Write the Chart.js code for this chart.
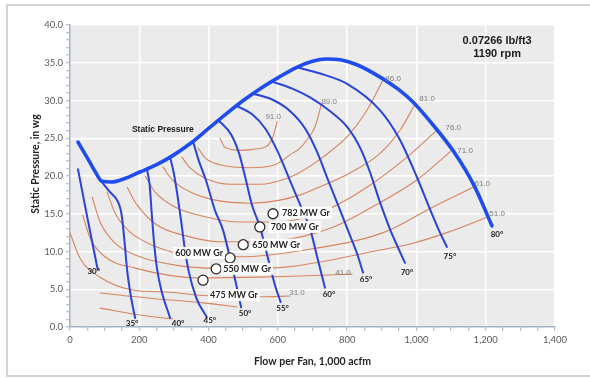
<!DOCTYPE html>
<html><head><meta charset="utf-8">
<script src="https://cdn.jsdelivr.net/npm/chart.js@4.4.1/dist/chart.umd.min.js"></script>
<style>html,body{margin:0;padding:0;background:#fff;overflow:hidden}canvas{display:block}</style>
</head><body>
<canvas id="c" width="590" height="379"></canvas>
<script>
// ---------- tick labels ----------
const xTickLabels = ['0','200','400','600','800','1,000','1,200','1,400'];
const yTickLabels = ['0.0','5.0','10.0','15.0','20.0','25.0','30.0','35.0','40.0'];

// ---------- static pressure envelope (flow, 1,000 acfm ; SP, in wg) ----------
const staticPressure = [[23,24.5],[50,22.4],[75,20.4],[92,19.3],[120,19.2],[160,19.7],[200,20.5],[250,21.5],[300,22.8],[350,24.4],[400,26.3],[450,28.2],[500,30.0],[550,31.6],[600,33.0],[650,34.3],[700,35.2],[740,35.5],[780,35.4],[830,34.7],[895,33.1],[950,31.4],[990,29.8],[1040,27.2],[1108,23.2],[1168,18.6],[1218,13.4]];

// ---------- inlet vane / blade angle curves ----------
const bladeAngles = ['30°','35°','40°','45°','50°','55°','60°','65°','70°','75°','80°'];
const blade30 = [[23,20.9],[50,14.5],[80,7.6]];
const blade35 = [[92,19.2],[115,17.9],[136,16.8],[146,15.6],[151,14.2],[158,11],[165,7.5],[176,4],[188,1.2]];
const blade40 = [[222,20.9],[230,18.8],[236,15],[243,11],[251,7.8],[264,4.8],[289,1.2]];
const blade45 = [[289,22.5],[300,20.3],[310,17.5],[321,14],[331,10.5],[342,7.5],[365,3.8],[395,1.3]];
const blade50 = [[355,24.6],[372,22],[392,19.5],[418,15.5],[442,12.8],[462,9.1],[478,6],[494,2.6]];
const blade55 = [[428,27.4],[465,25.5],[488,23],[505,20],[525,16.2],[548,13.3],[572,9],[592,5.5],[608,3.3]];
const blade60 = [[480,29.3],[525,28.2],[565,26.2],[600,23.2],[625,20.5],[645,18.3],[668,15.8],[693,13],[715,9],[736,5.2]];
const blade65 = [[529,30.9],[580,30.2],[630,28.8],[680,26.2],[715,23],[742,19.8],[775,16],[805,12.5],[828,9.8],[846,7.2]];
const blade70 = [[583,32.5],[640,31.6],[693,30.4],[750,28.6],[800,26.5],[840,23.5],[866,20.5],[895,16.5],[925,12.8],[950,10.2],[967,8.5]];
const blade75 = [[655,34.4],[720,33.6],[800,32.2],[895,28.7],[950,25],[1000,20],[1040,15.5],[1068,12.5],[1088,10.6]];
// the 80° curve is the right end of the static pressure envelope
const blade80End = [[1218,13.4]];

// ---------- efficiency contours (%) ----------
const effLabels = ['91.0','89.0','86.0','81.0','76.0','71.0','61.0','51.0','41.0','31.0'];
const eff91 = [[433,25.0],[447,23.8],[491,23.4],[540,23.6],[572,24.1],[586,25.2],[598,27.2]];
const eff89 = [[370,23.7],[390,22.4],[433,21.5],[520,21.1],[592,21.5],[635,22.8],[664,23.7],[684,24.8],[707,26.5],[725,29.4]];
const eff86 = [[323,22.5],[346,21.1],[390,19.7],[462,18.9],[549,18.9],[621,19.6],[664,20.5],[730,22.5],[800,25.2],[857,28.7],[901,32.5]];
const eff81 = [[268,21.2],[295,19.5],[346,17.9],[419,16.8],[520,16.4],[606,16.8],[664,17.5],[713,18.4],[808,20.4],[895,23.0],[953,26.1],[996,29.5]];
const eff76 = [[217,20.0],[245,17.9],[303,15.9],[390,14.6],[491,13.9],[592,13.9],[664,14.3],[759,15.9],[857,18.5],[973,22.5],[1060,26.1]];
const eff71 = [[165,18.5],[193,16.2],[251,13.5],[332,12.1],[433,11.3],[549,11.3],[664,11.9],[759,13.2],[857,15.5],[1002,19.5],[1100,23.3]];
const eff61 = [[107,17.9],[130,15.1],[173,12.6],[245,10.7],[346,9.5],[491,9.3],[664,10.1],[904,12.5],[1048,15.9],[1164,18.5]];
const eff51 = [[64,17.2],[87,13.9],[130,11.1],[202,9.3],[318,8.1],[491,7.7],[635,8.0],[895,10.2],[990,11.1],[1088,12.5],[1207,14.6]];
const eff41 = [[37,14.8],[58,11.8],[101,9.3],[188,7.8],[375,6.5],[549,6.6],[664,6.75],[814,7.0]];
const eff31 = [[0,12.5],[29,9.1],[87,6.6],[182,4.9],[289,4.6],[375,4.2],[549,4.0],[635,4.1]];
const effLow1 = [[87,4.5],[231,3.8],[384,3.2],[482,2.65]];
const effLow2 = [[87,2.5],[202,1.6],[297,1.06]];

// ---------- operating points ----------
const mwLabels = ['782 MW Gr','700 MW Gr','650 MW Gr','600 MW Gr','550 MW Gr','475 MW Gr'];
const mwFlow = [586,548,500,462,422,384];
const mwSP = [15.0,13.25,10.9,9.15,7.7,6.2];

// ---------- build ----------
const pts = a => a.map(p => ({x:p[0], y:p[1]}));
const blades = [blade30,blade35,blade40,blade45,blade50,blade55,blade60,blade65,blade70,blade75];
const effs = [eff91,eff89,eff86,eff81,eff76,eff71,eff61,eff51,eff41,eff31];
const BLUE = '#2a43da', ENV = '#1f4cf0', ORANGE = '#d7845e';
const base = {showLine:true, pointRadius:0, fill:false, cubicInterpolationMode:'monotone'};

const datasets = [
  Object.assign({}, base, {label:'Static Pressure', data:pts(staticPressure), borderColor:ENV, borderWidth:3.6, order:1}),
  ...blades.map((b,i)=>Object.assign({}, base, {label:bladeAngles[i], data:pts(b), borderColor:BLUE, borderWidth:2, order:2})),
  ...effs.map((e,i)=>Object.assign({}, base, {label:effLabels[i], data:pts(e), borderColor:ORANGE, borderWidth:1.1, order:3})),
  Object.assign({}, base, {label:'low1', data:pts(effLow1), borderColor:ORANGE, borderWidth:1.1, order:3}),
  Object.assign({}, base, {label:'low2', data:pts(effLow2), borderColor:ORANGE, borderWidth:1.1, order:3}),
  {label:'MW', data:mwFlow.map((x,i)=>({x, y:mwSP[i]})), showLine:false, pointRadius:5, pointHoverRadius:5,
   pointBackgroundColor:'#ffffff', pointBorderColor:'#2b2b2b', pointBorderWidth:1.3, order:0}
];

const SANS = "'Liberation Sans', Arial, sans-serif";
const LATO = "Lato, 'Liberation Sans', sans-serif";

const bladeOffsets = [[-4,2],[-3,5],[8,5],[3,3],[4,6],[2,6],[4,7],[3,7],[2,10],[3,9],[5,9]];
const effOffsets = [[-4,-5],[8,-3],[11,-3],[12,-5],[16,-2],[14,0],[9,-4],[9,-3],[-9,-1],[7,-3]];
const mwOffsets = [[9,-1,'left'],[11,0,'left'],[9,0,'left'],[-7,-5,'right'],[7,0,'left'],[7,15,'left']];

const deco = {
  id:'deco',
  beforeDraw(chart){
    const {ctx, chartArea:a} = chart;
    ctx.save();
    ctx.fillStyle = '#fff'; ctx.fillRect(0,0,chart.width,chart.height);
    ctx.strokeStyle = '#d3d3d3'; ctx.lineWidth = 2;
    ctx.strokeRect(7,5,640,371);
    ctx.fillStyle = '#ebebeb';
    ctx.fillRect(a.left, a.top, a.right-a.left, a.bottom-a.top);
    ctx.restore();
  },
  afterDatasetsDraw(chart){
    const {ctx} = chart;
    const xs = chart.scales.x, ys = chart.scales.y;
    const X = v => xs.getPixelForValue(v), Y = v => ys.getPixelForValue(v);
    ctx.save();
    ctx.textBaseline = 'middle';
    // efficiency labels
    ctx.font = "8px " + SANS; ctx.fillStyle = '#7d7d7d'; ctx.textAlign = 'center';
    effs.forEach((e,i)=>{
      const p = e[e.length-1];
      ctx.fillText(effLabels[i], X(p[0])+effOffsets[i][0], Y(p[1])+effOffsets[i][1]);
    });
    // blade angle labels
    ctx.font = "bold 8px " + LATO; ctx.fillStyle = '#222';
    const ends = blades.map(b=>b[b.length-1]).concat(blade80End);
    ends.forEach((p,i)=>{
      ctx.fillText(bladeAngles[i], X(p[0])+bladeOffsets[i][0], Y(p[1])+bladeOffsets[i][1]);
    });
    // operating point labels
    ctx.font = "bold 9px " + LATO;
    mwLabels.forEach((t,i)=>{
      const o = mwOffsets[i];
      const w = ctx.measureText(t).width;
      let x = X(mwFlow[i]) + o[0]; const y = Y(mwSP[i]) + o[1];
      const left = o[2]==='left' ? x : x - w;
      ctx.fillStyle = 'rgba(255,255,255,0.92)';
      ctx.fillRect(left-2, y-6, w+4, 12);
      ctx.fillStyle = '#262626'; ctx.textAlign = 'left';
      ctx.fillText(t, left, y);
    });
    // static pressure label
    ctx.textAlign = 'center';
    ctx.font = "bold 8.5px " + SANS; ctx.fillStyle = '#1a1a1a';
    ctx.fillText('Static Pressure', X(268), Y(26.2));
    // density / speed
    ctx.font = "bold 11px " + SANS; ctx.fillStyle = '#1a1a1a';
    ctx.fillText('0.07266 lb/ft3', X(1233), Y(37.9));
    ctx.fillText('1190 rpm', X(1233), Y(36.1));
    ctx.restore();
  },
  afterDraw(chart){
    const {ctx, chartArea:a} = chart;
    ctx.save();
    ctx.fillStyle = '#262626';
    ctx.font = "bold 10.5px " + LATO;
    ctx.textAlign = 'center'; ctx.textBaseline = 'middle';
    ctx.fillText('Flow per Fan, 1,000 acfm', (a.left+a.right)/2, 362);
    ctx.translate(36, 164); ctx.rotate(-Math.PI/2);
    ctx.fillText('Static Pressure, in wg', 0, 0);
    ctx.restore();
  }
};

new Chart(document.getElementById('c'), {
  type:'scatter',
  data:{datasets},
  options:{
    responsive:false, animation:false, devicePixelRatio:1,
    layout:{padding:{left:0, right:35, top:25, bottom:0}},
    plugins:{legend:{display:false}, tooltip:{enabled:false}},
    elements:{line:{borderCapStyle:'round', borderJoinStyle:'round'}},
    scales:{
      x:{type:'linear', min:0, max:1400,
         afterFit:s=>{s.height = 52;},
         ticks:{stepSize:50, autoSkip:false, maxRotation:0, padding:3, color:'#595959',
                font:{family:LATO, size:9.5},
                callback:v=> v%200===0 ? xTickLabels[v/200] : ''},
         grid:{color:c=> (c.tick && c.tick.value%200===0 && c.tick.value>0) ? '#ffffff' : 'rgba(0,0,0,0)',
               lineWidth:1.5, tickLength:4, tickColor:'#a3b3c6', tickWidth:1},
         border:{color:'#a3b3c6', width:1.5}},
      y:{type:'linear', min:0, max:40,
         afterFit:s=>{s.width = 70;},
         ticks:{stepSize:1, autoSkip:false, padding:3, color:'#595959',
                font:{family:LATO, size:9.5},
                callback:v=> v%5===0 ? yTickLabels[v/5] : ''},
         grid:{color:c=> (c.tick && c.tick.value%5===0 && c.tick.value>0) ? '#ffffff' : 'rgba(0,0,0,0)',
               lineWidth:1.5, tickLength:4, tickColor:'#a3b3c6', tickWidth:1},
         border:{color:'#a3b3c6', width:1.5}}
    }
  },
  plugins:[deco]
});
</script>
</body></html>
